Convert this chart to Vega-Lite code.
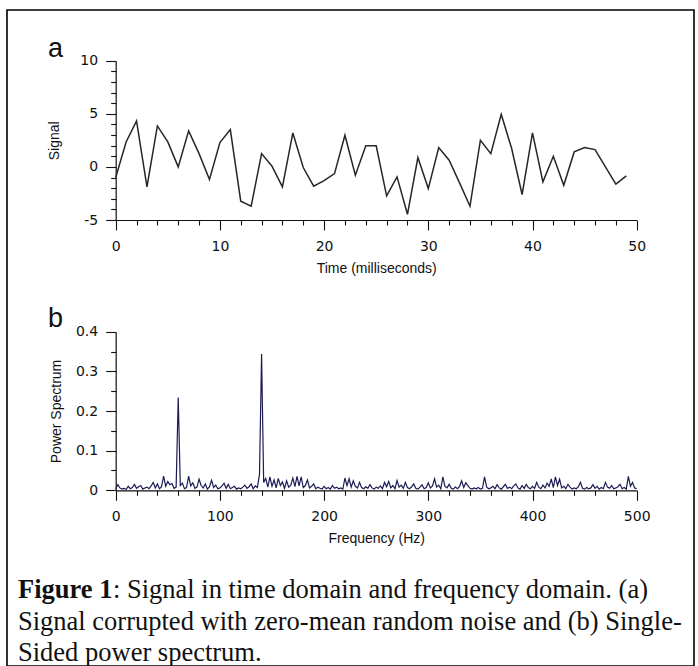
{
  "$schema": "https://vega.github.io/schema/vega-lite/v6.json",
  "width": 687,
  "height": 656,
  "autosize": {"type": "none"},
  "padding": {"left": 7, "top": 10, "right": 4, "bottom": 0},
  "background": "white",
  "config": {
    "view": {"stroke": "#000", "strokeWidth": 1.6},
    "axis": {
      "grid": false,
      "domainColor": "#111",
      "domainWidth": 1.2,
      "tickColor": "#111",
      "tickWidth": 1.1,
      "labelFont": "DejaVu Sans",
      "labelFontSize": 14,
      "labelColor": "#111",
      "titleFont": "Liberation Sans",
      "titleFontSize": 14,
      "titleFontWeight": "normal",
      "titleColor": "#111",
      "labelOverlap": false,
      "labelFlush": false
    }
  },
  "datasets": {
    "signal": [
      {"time": 0, "signal": -1.0}, {"time": 1, "signal": 2.35}, {"time": 2, "signal": 4.33}, {"time": 3, "signal": -1.88},
      {"time": 4, "signal": 3.86}, {"time": 5, "signal": 2.35}, {"time": 6, "signal": 0.0}, {"time": 7, "signal": 3.39},
      {"time": 8, "signal": 1.25}, {"time": 9, "signal": -1.19}, {"time": 10, "signal": 2.29}, {"time": 11, "signal": 3.51},
      {"time": 12, "signal": -3.23}, {"time": 13, "signal": -3.7}, {"time": 14, "signal": 1.25}, {"time": 15, "signal": 0.06},
      {"time": 16, "signal": -1.88}, {"time": 17, "signal": 3.2}, {"time": 18, "signal": -0.06}, {"time": 19, "signal": -1.82},
      {"time": 20, "signal": -1.3}, {"time": 21, "signal": -0.63}, {"time": 22, "signal": 2.98}, {"time": 23, "signal": -0.78},
      {"time": 24, "signal": 1.98}, {"time": 25, "signal": 1.98}, {"time": 26, "signal": -2.73}, {"time": 27, "signal": -0.94},
      {"time": 28, "signal": -4.46}, {"time": 29, "signal": 0.88}, {"time": 30, "signal": -2.04}, {"time": 31, "signal": 1.82},
      {"time": 32, "signal": 0.63}, {"time": 33, "signal": -1.5}, {"time": 34, "signal": -3.7}, {"time": 35, "signal": 2.51},
      {"time": 36, "signal": 1.25}, {"time": 37, "signal": 4.96}, {"time": 38, "signal": 1.73}, {"time": 39, "signal": -2.6},
      {"time": 40, "signal": 3.2}, {"time": 41, "signal": -1.41}, {"time": 42, "signal": 1.0}, {"time": 43, "signal": -1.73},
      {"time": 44, "signal": 1.41}, {"time": 45, "signal": 1.82}, {"time": 46, "signal": 1.63}, {"time": 47, "signal": 0.0},
      {"time": 48, "signal": -1.63}, {"time": 49, "signal": -0.85}
    ],
    "spectrum": [
      {"freq": 0, "power": 0.004}, {"freq": 2, "power": 0.014}, {"freq": 4, "power": 0.006}, {"freq": 6, "power": 0.003},
      {"freq": 8, "power": 0.005}, {"freq": 10, "power": 0.002}, {"freq": 12, "power": 0.010}, {"freq": 14, "power": 0.004},
      {"freq": 16, "power": 0.007}, {"freq": 18, "power": 0.015}, {"freq": 20, "power": 0.005}, {"freq": 22, "power": 0.009},
      {"freq": 24, "power": 0.012}, {"freq": 26, "power": 0.003}, {"freq": 28, "power": 0.006}, {"freq": 30, "power": 0.008},
      {"freq": 32, "power": 0.004}, {"freq": 34, "power": 0.011}, {"freq": 36, "power": 0.020}, {"freq": 38, "power": 0.006},
      {"freq": 40, "power": 0.016}, {"freq": 42, "power": 0.004}, {"freq": 44, "power": 0.009}, {"freq": 46, "power": 0.036},
      {"freq": 48, "power": 0.010}, {"freq": 50, "power": 0.022}, {"freq": 52, "power": 0.014}, {"freq": 54, "power": 0.017},
      {"freq": 56, "power": 0.005}, {"freq": 58, "power": 0.008}, {"freq": 60, "power": 0.234}, {"freq": 62, "power": 0.012},
      {"freq": 64, "power": 0.018}, {"freq": 66, "power": 0.004}, {"freq": 68, "power": 0.007}, {"freq": 70, "power": 0.036},
      {"freq": 72, "power": 0.011}, {"freq": 74, "power": 0.019}, {"freq": 76, "power": 0.005}, {"freq": 78, "power": 0.008},
      {"freq": 80, "power": 0.028}, {"freq": 82, "power": 0.012}, {"freq": 84, "power": 0.006}, {"freq": 86, "power": 0.016},
      {"freq": 88, "power": 0.003}, {"freq": 90, "power": 0.009}, {"freq": 92, "power": 0.025}, {"freq": 94, "power": 0.007},
      {"freq": 96, "power": 0.013}, {"freq": 98, "power": 0.004}, {"freq": 100, "power": 0.006}, {"freq": 102, "power": 0.011},
      {"freq": 104, "power": 0.018}, {"freq": 106, "power": 0.005}, {"freq": 108, "power": 0.015}, {"freq": 110, "power": 0.004},
      {"freq": 112, "power": 0.007}, {"freq": 114, "power": 0.010}, {"freq": 116, "power": 0.003}, {"freq": 118, "power": 0.006},
      {"freq": 120, "power": 0.004}, {"freq": 122, "power": 0.008}, {"freq": 124, "power": 0.013}, {"freq": 126, "power": 0.005},
      {"freq": 128, "power": 0.009}, {"freq": 130, "power": 0.016}, {"freq": 132, "power": 0.004}, {"freq": 134, "power": 0.011},
      {"freq": 136, "power": 0.007}, {"freq": 138, "power": 0.040}, {"freq": 140, "power": 0.344}, {"freq": 142, "power": 0.020},
      {"freq": 144, "power": 0.030}, {"freq": 146, "power": 0.008}, {"freq": 148, "power": 0.034}, {"freq": 150, "power": 0.010},
      {"freq": 152, "power": 0.026}, {"freq": 154, "power": 0.006}, {"freq": 156, "power": 0.030}, {"freq": 158, "power": 0.012},
      {"freq": 160, "power": 0.021}, {"freq": 162, "power": 0.005}, {"freq": 164, "power": 0.024}, {"freq": 166, "power": 0.008},
      {"freq": 168, "power": 0.013}, {"freq": 170, "power": 0.031}, {"freq": 172, "power": 0.009}, {"freq": 174, "power": 0.035},
      {"freq": 176, "power": 0.011}, {"freq": 178, "power": 0.034}, {"freq": 180, "power": 0.007}, {"freq": 182, "power": 0.012},
      {"freq": 184, "power": 0.026}, {"freq": 186, "power": 0.006}, {"freq": 188, "power": 0.010}, {"freq": 190, "power": 0.016},
      {"freq": 192, "power": 0.004}, {"freq": 194, "power": 0.008}, {"freq": 196, "power": 0.005}, {"freq": 198, "power": 0.003},
      {"freq": 200, "power": 0.010}, {"freq": 202, "power": 0.004}, {"freq": 204, "power": 0.007}, {"freq": 206, "power": 0.003},
      {"freq": 208, "power": 0.012}, {"freq": 210, "power": 0.005}, {"freq": 212, "power": 0.008}, {"freq": 214, "power": 0.004},
      {"freq": 216, "power": 0.006}, {"freq": 218, "power": 0.003}, {"freq": 220, "power": 0.031}, {"freq": 222, "power": 0.012},
      {"freq": 224, "power": 0.029}, {"freq": 226, "power": 0.008}, {"freq": 228, "power": 0.024}, {"freq": 230, "power": 0.010},
      {"freq": 232, "power": 0.006}, {"freq": 234, "power": 0.020}, {"freq": 236, "power": 0.007}, {"freq": 238, "power": 0.004},
      {"freq": 240, "power": 0.009}, {"freq": 242, "power": 0.005}, {"freq": 244, "power": 0.014}, {"freq": 246, "power": 0.006},
      {"freq": 248, "power": 0.003}, {"freq": 250, "power": 0.008}, {"freq": 252, "power": 0.005}, {"freq": 254, "power": 0.011},
      {"freq": 256, "power": 0.004}, {"freq": 258, "power": 0.020}, {"freq": 260, "power": 0.009}, {"freq": 262, "power": 0.022},
      {"freq": 264, "power": 0.006}, {"freq": 266, "power": 0.012}, {"freq": 268, "power": 0.004}, {"freq": 270, "power": 0.025},
      {"freq": 272, "power": 0.008}, {"freq": 274, "power": 0.013}, {"freq": 276, "power": 0.005}, {"freq": 278, "power": 0.020},
      {"freq": 280, "power": 0.007}, {"freq": 282, "power": 0.004}, {"freq": 284, "power": 0.009}, {"freq": 286, "power": 0.016},
      {"freq": 288, "power": 0.005}, {"freq": 290, "power": 0.003}, {"freq": 292, "power": 0.008}, {"freq": 294, "power": 0.014},
      {"freq": 296, "power": 0.004}, {"freq": 298, "power": 0.007}, {"freq": 300, "power": 0.019}, {"freq": 302, "power": 0.006},
      {"freq": 304, "power": 0.011}, {"freq": 306, "power": 0.029}, {"freq": 308, "power": 0.008}, {"freq": 310, "power": 0.013},
      {"freq": 312, "power": 0.004}, {"freq": 314, "power": 0.034}, {"freq": 316, "power": 0.010}, {"freq": 318, "power": 0.006},
      {"freq": 320, "power": 0.015}, {"freq": 322, "power": 0.005}, {"freq": 324, "power": 0.003}, {"freq": 326, "power": 0.008},
      {"freq": 328, "power": 0.004}, {"freq": 330, "power": 0.010}, {"freq": 332, "power": 0.024}, {"freq": 334, "power": 0.007},
      {"freq": 336, "power": 0.019}, {"freq": 338, "power": 0.012}, {"freq": 340, "power": 0.005}, {"freq": 342, "power": 0.003},
      {"freq": 344, "power": 0.006}, {"freq": 346, "power": 0.004}, {"freq": 348, "power": 0.007}, {"freq": 350, "power": 0.003},
      {"freq": 352, "power": 0.005}, {"freq": 354, "power": 0.034}, {"freq": 356, "power": 0.008}, {"freq": 358, "power": 0.004},
      {"freq": 360, "power": 0.006}, {"freq": 362, "power": 0.010}, {"freq": 364, "power": 0.004}, {"freq": 366, "power": 0.014},
      {"freq": 368, "power": 0.006}, {"freq": 370, "power": 0.003}, {"freq": 372, "power": 0.009}, {"freq": 374, "power": 0.015},
      {"freq": 376, "power": 0.005}, {"freq": 378, "power": 0.008}, {"freq": 380, "power": 0.004}, {"freq": 382, "power": 0.011},
      {"freq": 384, "power": 0.016}, {"freq": 386, "power": 0.006}, {"freq": 388, "power": 0.003}, {"freq": 390, "power": 0.012},
      {"freq": 392, "power": 0.005}, {"freq": 394, "power": 0.015}, {"freq": 396, "power": 0.007}, {"freq": 398, "power": 0.004},
      {"freq": 400, "power": 0.010}, {"freq": 402, "power": 0.005}, {"freq": 404, "power": 0.020}, {"freq": 406, "power": 0.008},
      {"freq": 408, "power": 0.004}, {"freq": 410, "power": 0.013}, {"freq": 412, "power": 0.006}, {"freq": 414, "power": 0.018},
      {"freq": 416, "power": 0.010}, {"freq": 418, "power": 0.029}, {"freq": 420, "power": 0.007}, {"freq": 422, "power": 0.034},
      {"freq": 424, "power": 0.012}, {"freq": 426, "power": 0.028}, {"freq": 428, "power": 0.006}, {"freq": 430, "power": 0.010},
      {"freq": 432, "power": 0.004}, {"freq": 434, "power": 0.015}, {"freq": 436, "power": 0.008}, {"freq": 438, "power": 0.003},
      {"freq": 440, "power": 0.006}, {"freq": 442, "power": 0.004}, {"freq": 444, "power": 0.009}, {"freq": 446, "power": 0.020},
      {"freq": 448, "power": 0.005}, {"freq": 450, "power": 0.003}, {"freq": 452, "power": 0.007}, {"freq": 454, "power": 0.004},
      {"freq": 456, "power": 0.006}, {"freq": 458, "power": 0.014}, {"freq": 460, "power": 0.005}, {"freq": 462, "power": 0.010},
      {"freq": 464, "power": 0.003}, {"freq": 466, "power": 0.007}, {"freq": 468, "power": 0.004}, {"freq": 470, "power": 0.020},
      {"freq": 472, "power": 0.008}, {"freq": 474, "power": 0.005}, {"freq": 476, "power": 0.012}, {"freq": 478, "power": 0.004},
      {"freq": 480, "power": 0.006}, {"freq": 482, "power": 0.009}, {"freq": 484, "power": 0.015}, {"freq": 486, "power": 0.004},
      {"freq": 488, "power": 0.007}, {"freq": 490, "power": 0.003}, {"freq": 492, "power": 0.035}, {"freq": 494, "power": 0.010},
      {"freq": 496, "power": 0.020}, {"freq": 498, "power": 0.006}, {"freq": 500, "power": 0.004}
    ],
    "caption": [
      {"line": 1, "part": "bold", "text": "Figure 1"},
      {"line": 1, "part": "rest", "text": ": Signal in time domain and frequency domain. (a)"},
      {"line": 2, "part": "normal", "text": "Signal corrupted with zero-mean random noise and (b) Single-"},
      {"line": 3, "part": "normal", "text": "Sided power spectrum."}
    ],
    "panelA": [{"label": "a"}],
    "panelB": [{"label": "b"}]
  },
  "layer": [
    {
      "layer": [
        {
          "data": {"name": "signal"},
          "mark": {"type": "line", "color": "#262626", "strokeWidth": 1.5},
          "encoding": {
            "x": {
              "field": "time", "type": "quantitative",
              "scale": {"domain": [0, 50], "range": [108.7, 629.7], "nice": false, "zero": false},
              "axis": {
                "orient": "bottom", "offset": -446, "title": "Time (milliseconds)",
                "values": [0,2,4,6,8,10,12,14,16,18,20,22,24,26,28,30,32,34,36,38,40,42,44,46,48,50],
                "tickCount": 200,
                "labelExpr": "datum.value % 10 === 0 ? '' + datum.value : ''",
                "tickSize": {"condition": {"test": "datum.value % 10 === 0", "value": 10}, "value": 5},
                "labelOverlap": false, "labelFlush": false, "labelBound": false,
                "labelPadding": 9, "titlePadding": 8
              }
            },
            "y": {
              "field": "signal", "type": "quantitative",
              "scale": {"domain": [-5, 10], "range": [210, 50.7], "nice": false, "zero": false},
              "axis": {
                "orient": "left", "offset": -108.7, "title": "Signal",
                "values": [-5,-4,-3,-2,-1,0,1,2,3,4,5,6,7,8,9,10],
                "tickCount": 200,
                "labelExpr": "datum.value % 5 === 0 ? '' + datum.value : ''",
                "tickSize": {"condition": {"test": "datum.value % 5 === 0", "value": 10}, "value": 5},
                "labelOverlap": false, "labelFlush": false,
                "labelPadding": 8, "titlePadding": 18
              }
            }
          }
        },
        {
          "data": {"name": "panelA"},
          "mark": {"type": "text", "font": "Liberation Sans", "fontSize": 27, "align": "left", "baseline": "alphabetic", "color": "#111"},
          "encoding": {
            "text": {"field": "label"},
            "x": {"datum": -6.5, "type": "quantitative"},
            "y": {"datum": 10.35, "type": "quantitative"}
          }
        }
      ]
    },
    {
      "layer": [
        {
          "data": {"name": "spectrum"},
          "mark": {"type": "line", "color": "#1c1c55", "strokeWidth": 1.2},
          "encoding": {
            "x": {
              "field": "freq", "type": "quantitative",
              "scale": {"domain": [0, 500], "range": [108.7, 629.7], "nice": false, "zero": false},
              "axis": {
                "orient": "bottom", "offset": -175.7, "title": "Frequency (Hz)",
                "values": [0,20,40,60,80,100,120,140,160,180,200,220,240,260,280,300,320,340,360,380,400,420,440,460,480,500],
                "tickCount": 200,
                "labelExpr": "datum.value % 100 === 0 ? '' + datum.value : ''",
                "tickSize": {"condition": {"test": "datum.value % 100 === 0", "value": 10}, "value": 5},
                "labelOverlap": false, "labelFlush": false, "labelBound": false,
                "labelPadding": 9, "titlePadding": 8
              }
            },
            "y": {
              "field": "power", "type": "quantitative",
              "scale": {"domain": [0, 0.4], "range": [480.3, 321.7], "nice": false, "zero": false},
              "axis": {
                "orient": "left", "offset": -108.7, "title": "Power Spectrum",
                "values": [0,0.05,0.1,0.15,0.2,0.25,0.3,0.35,0.4],
                "tickCount": 200,
                "labelExpr": "round(datum.value*100) % 10 === 0 ? format(datum.value, '.1~f') : ''",
                "tickSize": {"condition": {"test": "round(datum.value*100) % 10 === 0", "value": 10}, "value": 5},
                "labelOverlap": false, "labelFlush": false,
                "labelPadding": 8, "titlePadding": 12
              }
            }
          }
        },
        {
          "data": {"name": "panelB"},
          "mark": {"type": "text", "font": "Liberation Sans", "fontSize": 27, "align": "left", "baseline": "alphabetic", "color": "#111"},
          "encoding": {
            "text": {"field": "label"},
            "x": {"datum": -65, "type": "quantitative"},
            "y": {"datum": 0.412, "type": "quantitative"}
          }
        }
      ]
    },
    {
      "data": {"name": "caption"},
      "encoding": {
        "x": {"datum": 0, "type": "quantitative", "scale": {"domain": [0, 1], "range": [11, 680]}, "axis": null},
        "y": {"field": "line", "type": "quantitative", "scale": {"domain": [1, 3], "range": [588, 651], "zero": false, "nice": false}, "axis": null},
        "text": {"field": "text"}
      },
      "layer": [
        {
          "transform": [{"filter": "datum.part === 'bold'"}],
          "mark": {"type": "text", "font": "Liberation Serif", "fontSize": 26.5, "fontWeight": "bold", "align": "left", "baseline": "alphabetic", "color": "#111"}
        },
        {
          "transform": [{"filter": "datum.part === 'rest'"}],
          "mark": {"type": "text", "font": "Liberation Serif", "fontSize": 26.5, "align": "left", "baseline": "alphabetic", "color": "#111", "dx": 95}
        },
        {
          "transform": [{"filter": "datum.part === 'normal'"}],
          "mark": {"type": "text", "font": "Liberation Serif", "fontSize": 26.5, "align": "left", "baseline": "alphabetic", "color": "#111"}
        }
      ]
    }
  ],
  "resolve": {
    "scale": {"x": "independent", "y": "independent"},
    "axis": {"x": "independent", "y": "independent"}
  }
}
